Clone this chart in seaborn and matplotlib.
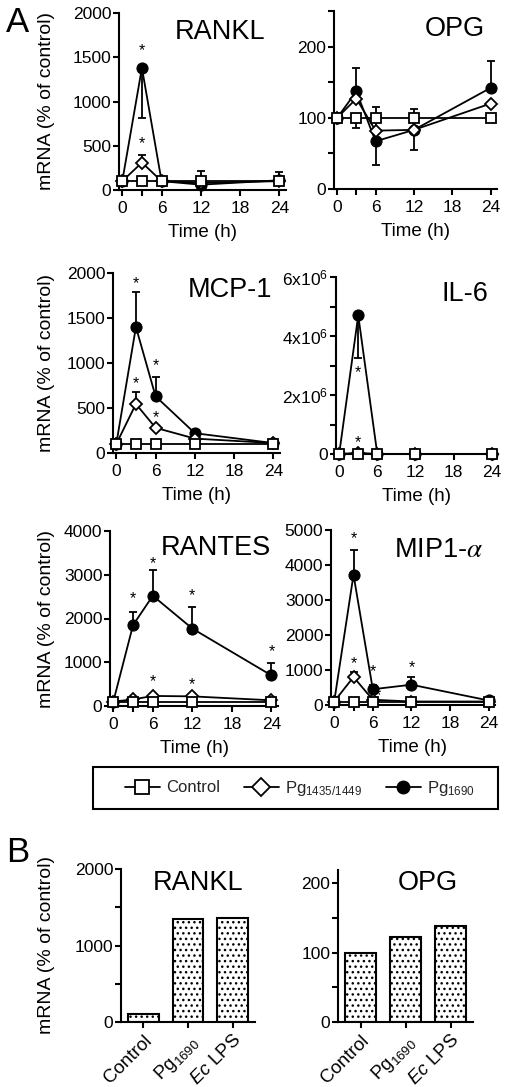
import numpy as np
import matplotlib
matplotlib.use("Agg")
import matplotlib.pyplot as plt
from matplotlib.lines import Line2D
from matplotlib.patches import Rectangle
import seaborn as sns

# time course (h)
times = [0, 3, 6, 12, 24]

rankl_ctrl = [100, 100, 100, 100, 100]
rankl_ctrl_err = [0, 0, 0, 120, 100]
rankl_pg1435 = [100, 310, 100, 80, 100]
rankl_pg1435_err = [0, 90, 0, 0, 0]
rankl_pg1690 = [100, 1380, 100, 60, 110]
rankl_pg1690_err = [0, -570, 0, 0, 0]

opg_ctrl = [100, 100, 100, 100, 100]
opg_ctrl_err = [0, -15, 0, 12, 0]
opg_pg1435 = [100, 127, 82, 83, 120]
opg_pg1435_err = [0, 0, 33, 0, 0]
opg_pg1690 = [100, 137, 67, 83, 142]
opg_pg1690_err = [0, 33, -33, -28, 38]

mcp1_ctrl = [100, 100, 100, 100, 100]
mcp1_pg1435 = [100, 545, 280, 160, 110]
mcp1_pg1435_err = [0, 135, 0, 0, 0]
mcp1_pg1690 = [100, 1400, 630, 220, 110]
mcp1_pg1690_err = [0, 390, 210, 0, 0]

il6_ctrl = [100, 100, 100, 100, 100]
il6_pg1435 = [100, 40000, 100, 100, 100]
il6_pg1690 = [100, 4.7e6, 100, 100, 100]
il6_pg1690_err = [0, -1.45e6, 0, 0, 0]

rantes_ctrl = [100, 100, 100, 100, 100]
rantes_pg1435 = [100, 150, 230, 220, 130]
rantes_pg1690 = [100, 1850, 2520, 1770, 700]
rantes_pg1690_err = [0, 300, 580, 500, 280]

mip1a_ctrl = [100, 100, 100, 100, 100]
mip1a_pg1435 = [100, 800, 150, 100, 100]
mip1a_pg1435_err = [0, 150, 0, 0, 0]
mip1a_pg1690 = [100, 3720, 450, 580, 130]
mip1a_pg1690_err = [0, 700, 110, 230, 0]

# significance stars (x, y)
rankl_stars = [(3, 1570), (3, 520)]
mcp1_stars = [(3, 1880), (3, 770), (6, 970), (6, 390)]
il6_stars = [(3, 2.75e6), (3, 0.4e6)]
rantes_stars = [(3, 2450), (6, 3260), (12, 2530), (24, 1240), (6, 550), (12, 490)]
mip1a_stars = [(3, 4740), (3, 1190), (6, 950), (6.8, 280), (12, 1080)]

# panel B bars
bar_labels = ["Control", r"Pg$_{1690}$", r"$\mathit{Ec}$ LPS"]
bar_rankl = [100, 1340, 1360]
bar_opg = [100, 123, 139]

sns.set_style("ticks")
plt.rcParams["font.family"] = ["Liberation Sans", "DejaVu Sans"]
plt.rcParams["mathtext.fontset"] = "custom"
plt.rcParams["mathtext.rm"] = "Liberation Sans"
plt.rcParams["mathtext.it"] = "Liberation Sans:italic"
plt.rcParams["mathtext.bf"] = "Liberation Sans:bold"
plt.rcParams["mathtext.default"] = "regular"
plt.rcParams["hatch.linewidth"] = 1.0

W, H = 508, 1087
fig = plt.figure(figsize=(W / 100, H / 100), dpi=100)


def px_axes(left, top, right, bottom):
    ax = fig.add_axes([left / W, 1 - bottom / H, (right - left) / W, (bottom - top) / H])
    ax._px_h = bottom - top
    return ax


def style_axes(ax, ymajor, yminor, ylim, ylabels=None):
    sns.despine(ax=ax)
    for s in ("left", "bottom"):
        ax.spines[s].set_linewidth(1.5)
        ax.spines[s].set_color("black")
    ax.set_ylim(*ylim)
    ax.set_yticks(ymajor, labels=ylabels if ylabels else [f"{v:g}" for v in ymajor])
    ax.set_yticks(yminor, minor=True)
    ax.tick_params(axis="both", which="both", direction="out", length=4, width=1.5,
                   color="black", labelsize=12.5, labelcolor="black")
    ax.tick_params(axis="y", pad=1.5)
    ax.tick_params(axis="x", pad=4)


def set_ylabel(ax):
    ax.set_ylabel("mRNA (% of control)", fontsize=14, color="black")
    pos = ax.get_position()
    ax.yaxis.set_label_coords((55 / W - pos.x0) / pos.width, 0.5)


def errbars(ax, vals, err):
    for x, v, e in zip(times, vals, err):
        if e == 0:
            continue
        lo, hi = (0, e) if e > 0 else (-e, 0)
        ax.errorbar([x], [v], yerr=[[lo], [hi]], fmt="none", ecolor="black",
                    elinewidth=1.3, capsize=3, capthick=1.3, zorder=2, clip_on=False)


def time_panel(ax, ctrl, pg1435, pg1690, errs, stars, title, tx, ty, ymajor, yminor,
               ylim, ylabels=None, ylabel=True):
    for vals, err in zip((ctrl, pg1435, pg1690), errs):
        if err is not None:
            errbars(ax, vals, err)
    sns.lineplot(x=times, y=pg1690, ax=ax, color="black", lw=1.3, marker="o", ms=8,
                 mfc="black", mec="black", zorder=3, clip_on=False)
    sns.lineplot(x=times, y=pg1435, ax=ax, color="black", lw=1.3, marker="D", ms=6.5,
                 mfc="white", mec="black", mew=1.3, zorder=4, clip_on=False)
    sns.lineplot(x=times, y=ctrl, ax=ax, color="black", lw=1.3, marker="s", ms=7.5,
                 mfc="white", mec="black", mew=1.3, zorder=5, clip_on=False)
    for sx, sy in stars:
        ax.text(sx, sy, "*", ha="center", va="center", fontsize=11.5, color="black")
    ax.set_xlim(-0.5, 25)
    ax.set_xticks([0, 3, 6, 12, 18, 24], labels=["0", "", "6", "12", "18", "24"])
    style_axes(ax, ymajor, yminor, ylim, ylabels)
    ax.set_xlabel("Time (h)", fontsize=13.5, color="black")
    ax.xaxis.set_label_coords(0.5, -34 / ax._px_h)
    if ylabel:
        set_ylabel(ax)
    else:
        ax.set_ylabel("")
    ax.text(tx, ty, title, transform=fig.transFigure, ha="center", va="center",
            fontsize=19.5, color="black", math_fontfamily="stix")


ax = px_axes(119, 13, 286, 190)
time_panel(ax, rankl_ctrl, rankl_pg1435, rankl_pg1690,
           (rankl_ctrl_err, rankl_pg1435_err, rankl_pg1690_err), rankl_stars,
           "RANKL", 220 / W, 1 - 32 / H, [0, 500, 1000, 1500, 2000], [], (0, 2000))

ax = px_axes(334, 11, 497, 189)
time_panel(ax, opg_ctrl, opg_pg1435, opg_pg1690,
           (opg_ctrl_err, opg_pg1435_err, opg_pg1690_err), [],
           "OPG", 455 / W, 1 - 29 / H, [0, 100, 200], [50, 150, 250], (0, 250), ylabel=False)

ax = px_axes(113, 273, 280, 453)
time_panel(ax, mcp1_ctrl, mcp1_pg1435, mcp1_pg1690,
           (None, mcp1_pg1435_err, mcp1_pg1690_err), mcp1_stars,
           "MCP-1", 230 / W, 1 - 290 / H, [0, 500, 1000, 1500, 2000], [], (0, 2000))

ax = px_axes(336, 277, 498, 454)
time_panel(ax, il6_ctrl, il6_pg1435, il6_pg1690,
           (None, None, il6_pg1690_err), il6_stars,
           "IL-6", 465 / W, 1 - 294 / H, [0, 2e6, 4e6, 6e6], [1e6, 3e6, 5e6], (0, 6e6),
           ylabels=["0", r"2x10$^{6}$", r"4x10$^{6}$", r"6x10$^{6}$"], ylabel=False)

ax = px_axes(110, 531, 278, 706)
time_panel(ax, rantes_ctrl, rantes_pg1435, rantes_pg1690,
           (None, None, rantes_pg1690_err), rantes_stars,
           "RANTES", 216 / W, 1 - 548 / H, [0, 1000, 2000, 3000, 4000], [], (0, 4000))

ax = px_axes(331, 530, 495, 705)
time_panel(ax, mip1a_ctrl, mip1a_pg1435, mip1a_pg1690,
           (None, mip1a_pg1435_err, mip1a_pg1690_err), mip1a_stars,
           r"MIP1-$\mathit{\alpha}$", 439 / W, 1 - 550 / H,
           [0, 1000, 2000, 3000, 4000, 5000], [], (0, 5000), ylabel=False)

# legend box
fig.patches.append(Rectangle((93 / W, 1 - 809 / H), 405 / W, 42 / H, transform=fig.transFigure,
                             fill=False, edgecolor="black", linewidth=1.5))
handles = [
    Line2D([], [], color="black", lw=1.3, marker="s", ms=10, mfc="white", mec="black", mew=1.3),
    Line2D([], [], color="black", lw=1.3, marker="D", ms=9, mfc="white", mec="black", mew=1.3),
    Line2D([], [], color="black", lw=1.3, marker="o", ms=9, mfc="black", mec="black"),
]
fig.legend(handles, ["Control", r"Pg$_{1435/1449}$", r"Pg$_{1690}$"], ncol=3,
           loc="center", bbox_to_anchor=(300 / W, 1 - 788 / H), frameon=False,
           fontsize=12, handlelength=2.1, handletextpad=0.4, columnspacing=1.4)


def bar_panel(ax, vals, title, tx, ty, ymajor, yminor, ylim, ylabel=True):
    sns.barplot(x=bar_labels, y=vals, ax=ax, color="white", edgecolor="black",
                linewidth=1.5, hatch="...", width=0.68, saturation=1)
    ax.set_xlim(-0.5, 2.5)
    style_axes(ax, ymajor, yminor, ylim)
    ax.tick_params(axis="x", length=4, pad=3, labelsize=13.5)
    for lab in ax.get_xticklabels():
        lab.set_rotation(45)
        lab.set_ha("right")
        lab.set_rotation_mode("anchor")
    if ylabel:
        set_ylabel(ax)
    else:
        ax.set_ylabel("")
    ax.text(tx, ty, title, transform=fig.transFigure, ha="center", va="center",
            fontsize=19.5, color="black")


ax = px_axes(121, 869, 255, 1022)
bar_panel(ax, bar_rankl, "RANKL", 198 / W, 1 - 883 / H, [0, 1000, 2000], [500, 1500], (0, 2000))

ax = px_axes(338, 870, 473, 1022)
bar_panel(ax, bar_opg, "OPG", 428 / W, 1 - 883 / H, [0, 100, 200], [50, 150], (0, 219),
          ylabel=False)

fig.text(6 / W, 1 - 6 / H, "A", fontsize=25, ha="left", va="top", color="black")
fig.text(6 / W, 1 - 836 / H, "B", fontsize=25, ha="left", va="top", color="black")

fig.savefig("out.png", dpi=100)
